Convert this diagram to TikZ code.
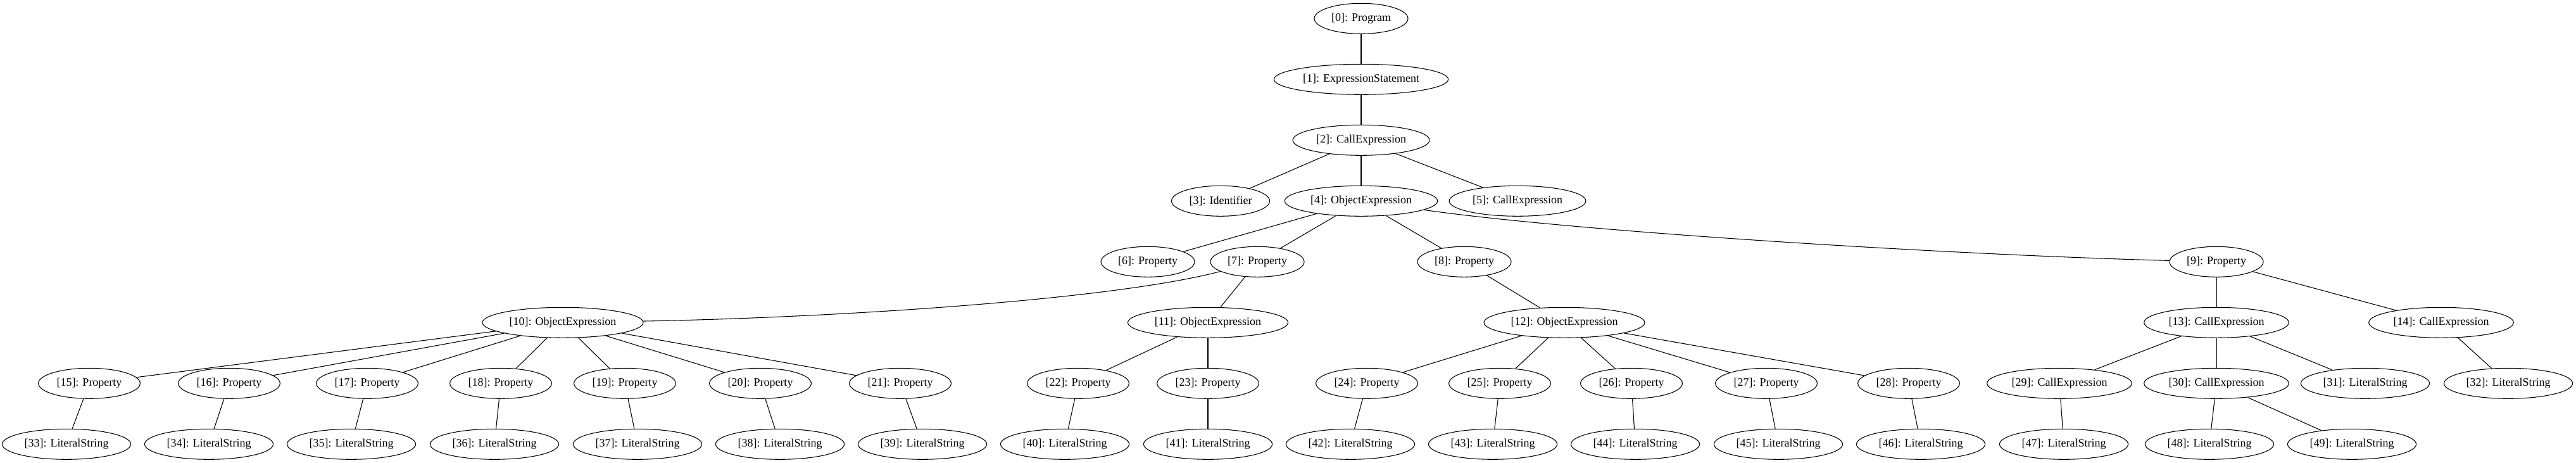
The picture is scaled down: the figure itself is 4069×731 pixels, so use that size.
\documentclass[tikz,border=0pt]{standalone}
\usepackage{fontspec}
\setmainfont{Liberation Serif}
\usetikzlibrary{shapes.geometric}
\begin{document}
\begin{tikzpicture}[x=0.75pt, y=-0.75pt, color = {black},
    astnode/.style={draw, ellipse, line width=0.8pt, minimum height=36pt, minimum width=54pt,
        inner xsep=4pt, inner ysep=3.9pt, font=\fontsize{13.5}{16}\selectfont},
    astedge/.style={line width=0.8pt}]
    \useasboundingbox (0,0) rectangle (4069,731);
    % rank 0 - 3
    \node[astnode] (n0) at (2150,29.3) {[0]: Program};
    \node[astnode] (n1) at (2150,125.3) {[1]: ExpressionStatement};
    \node[astnode] (n2) at (2150,221.3) {[2]: CallExpression};
    \node[astnode] (n3) at (1928,317.3) {[3]: Identifier};
    \node[astnode] (n4) at (2150,317.3) {[4]: ObjectExpression};
    \node[astnode] (n5) at (2397,317.3) {[5]: CallExpression};
    % rank 4
    \node[astnode] (n6) at (1813,413.3) {[6]: Property};
    \node[astnode] (n7) at (1986,413.3) {[7]: Property};
    \node[astnode] (n8) at (2313,413.3) {[8]: Property};
    \node[astnode] (n9) at (3501,413.3) {[9]: Property};
    % rank 5
    \node[astnode] (n10) at (889,509.3) {[10]: ObjectExpression};
    \node[astnode] (n11) at (1908,509.3) {[11]: ObjectExpression};
    \node[astnode] (n12) at (2471,509.3) {[12]: ObjectExpression};
    \node[astnode] (n13) at (3501,509.3) {[13]: CallExpression};
    \node[astnode] (n14) at (3856,509.3) {[14]: CallExpression};
    % rank 6
    \node[astnode] (n15) at (141,605.3) {[15]: Property};
    \node[astnode] (n16) at (362,605.3) {[16]: Property};
    \node[astnode] (n17) at (580,605.3) {[17]: Property};
    \node[astnode] (n18) at (791,605.3) {[18]: Property};
    \node[astnode] (n19) at (987,605.3) {[19]: Property};
    \node[astnode] (n20) at (1201,605.3) {[20]: Property};
    \node[astnode] (n21) at (1422,605.3) {[21]: Property};
    \node[astnode] (n22) at (1703,605.3) {[22]: Property};
    \node[astnode] (n23) at (1908,605.3) {[23]: Property};
    \node[astnode] (n24) at (2159,605.3) {[24]: Property};
    \node[astnode] (n25) at (2369,605.3) {[25]: Property};
    \node[astnode] (n26) at (2577,605.3) {[26]: Property};
    \node[astnode] (n27) at (2790,605.3) {[27]: Property};
    \node[astnode] (n28) at (3015,605.3) {[28]: Property};
    \node[astnode] (n29) at (3253,605.3) {[29]: CallExpression};
    \node[astnode] (n30) at (3501,605.3) {[30]: CallExpression};
    \node[astnode] (n31) at (3736,605.3) {[31]: LiteralString};
    \node[astnode] (n32) at (3962,605.3) {[32]: LiteralString};
    % rank 7
    \node[astnode] (n33) at (105,701.3) {[33]: LiteralString};
    \node[astnode] (n34) at (330,701.3) {[34]: LiteralString};
    \node[astnode] (n35) at (555,701.3) {[35]: LiteralString};
    \node[astnode] (n36) at (781,701.3) {[36]: LiteralString};
    \node[astnode] (n37) at (1007,701.3) {[37]: LiteralString};
    \node[astnode] (n38) at (1232,701.3) {[38]: LiteralString};
    \node[astnode] (n39) at (1457,701.3) {[39]: LiteralString};
    \node[astnode] (n40) at (1682,701.3) {[40]: LiteralString};
    \node[astnode] (n41) at (1908,701.3) {[41]: LiteralString};
    \node[astnode] (n42) at (2133,701.3) {[42]: LiteralString};
    \node[astnode] (n43) at (2358,701.3) {[43]: LiteralString};
    \node[astnode] (n44) at (2583,701.3) {[44]: LiteralString};
    \node[astnode] (n45) at (2809,701.3) {[45]: LiteralString};
    \node[astnode] (n46) at (3034,701.3) {[46]: LiteralString};
    \node[astnode] (n47) at (3260,701.3) {[47]: LiteralString};
    \node[astnode] (n48) at (3490,701.3) {[48]: LiteralString};
    \node[astnode] (n49) at (3715,701.3) {[49]: LiteralString};
    % edges
    \draw[astedge] (n0) -- (n1);
    \draw[astedge] (n1) -- (n2);
    \draw[astedge] (n2) -- (n3);
    \draw[astedge] (n2) -- (n4);
    \draw[astedge] (n2) -- (n5);
    \draw[astedge] (n4) -- (n6);
    \draw[astedge] (n4) -- (n7);
    \draw[astedge] (n4) -- (n8);
    \draw[astedge] (n4) .. controls (2500,367) and (3100,403) .. (n9);
    \draw[astedge] (n7) .. controls (1750,475) and (1300,502) .. (n10);
    \draw[astedge] (n7) -- (n11);
    \draw[astedge] (n8) -- (n12);
    \draw[astedge] (n9) -- (n13);
    \draw[astedge] (n9) -- (n14);
    \draw[astedge] (n10) -- (n15);
    \draw[astedge] (n10) -- (n16);
    \draw[astedge] (n10) -- (n17);
    \draw[astedge] (n10) -- (n18);
    \draw[astedge] (n10) -- (n19);
    \draw[astedge] (n10) -- (n20);
    \draw[astedge] (n10) -- (n21);
    \draw[astedge] (n11) -- (n22);
    \draw[astedge] (n11) -- (n23);
    \draw[astedge] (n12) -- (n24);
    \draw[astedge] (n12) -- (n25);
    \draw[astedge] (n12) -- (n26);
    \draw[astedge] (n12) -- (n27);
    \draw[astedge] (n12) -- (n28);
    \draw[astedge] (n13) -- (n29);
    \draw[astedge] (n13) -- (n30);
    \draw[astedge] (n13) -- (n31);
    \draw[astedge] (n14) -- (n32);
    \draw[astedge] (n15) -- (n33);
    \draw[astedge] (n16) -- (n34);
    \draw[astedge] (n17) -- (n35);
    \draw[astedge] (n18) -- (n36);
    \draw[astedge] (n19) -- (n37);
    \draw[astedge] (n20) -- (n38);
    \draw[astedge] (n21) -- (n39);
    \draw[astedge] (n22) -- (n40);
    \draw[astedge] (n23) -- (n41);
    \draw[astedge] (n24) -- (n42);
    \draw[astedge] (n25) -- (n43);
    \draw[astedge] (n26) -- (n44);
    \draw[astedge] (n27) -- (n45);
    \draw[astedge] (n28) -- (n46);
    \draw[astedge] (n29) -- (n47);
    \draw[astedge] (n30) -- (n48);
    \draw[astedge] (n30) -- (n49);
\end{tikzpicture}
\end{document}
